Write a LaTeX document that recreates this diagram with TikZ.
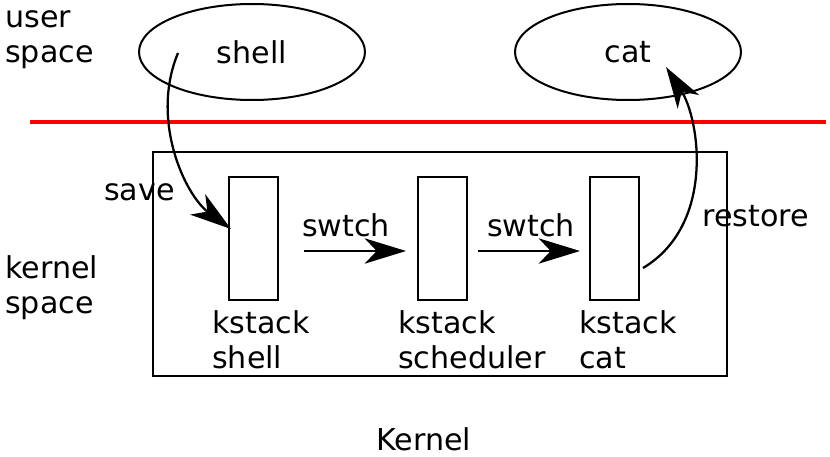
\documentclass[tikz,border=0pt]{standalone}
\usepackage{fontspec}
\setmainfont{DejaVu Sans}
\usetikzlibrary{arrows.meta,shapes.geometric}
\begin{document}
\begin{tikzpicture}[x=0.75pt,y=-0.75pt,
  lbl/.style={font=\fontsize{22.6}{26.25}\selectfont, inner sep=0pt, align=left},
  ell/.style={draw, ellipse, line width=1.5pt, minimum width=169.5pt, minimum height=72pt, inner sep=0pt, font=\fontsize{22.6}{26.25}\selectfont},
  stackbox/.style={draw, line width=1.5pt, minimum width=36.75pt, minimum height=92.25pt, inner sep=0pt},
  kbox/.style={draw, line width=1.5pt, minimum width=430.5pt, minimum height=168pt, inner sep=0pt},
  arr/.style={line width=1.7pt, -{Stealth[length=31pt,width=19pt,inset=9pt]}}]
\useasboundingbox (0,0) rectangle (830,456);

% boundary line
\coordinate (la) at (30,122);
\coordinate (lb) at (826,122);
\draw[red, line width=3pt] (la) -- (lb);

% user space ellipses
\node[ell] (shell) at (252,52) {shell};
\node[ell] (cat) at (628,52) {cat};

% kernel box and stacks
\node[kbox] (kernel) at (440,264) {};
\node[stackbox] (r1) at (253.5,238.5) {};
\node[stackbox] (r2) at (442.5,238.5) {};
\node[stackbox] (r3) at (614,238.5) {};

% labels (base anchor = baseline of the last line)
\node[lbl, anchor=base west] (us) at (5,63) {user\\space};
\node[lbl, anchor=base west] (ks) at (5,313) {kernel\\space};
\node[lbl, anchor=base west] (l1) at (212,368) {kstack\\shell};
\node[lbl, anchor=base west] (l2) at (398,368) {kstack\\scheduler};
\node[lbl, anchor=base west] (l3) at (579,368) {kstack\\cat};
\node[lbl, anchor=base west] (save) at (104,200) {save};
\node[lbl, anchor=base west] (restore) at (702,226) {restore};
\node[lbl, anchor=base] (sw1) at (346,236) {swtch};
\node[lbl, anchor=base] (sw2) at (531,236) {swtch};
\node[lbl, anchor=base] (kl) at (424,450) {Kernel};

% arrows
\coordinate (a1) at (304,251);
\coordinate (a2) at (406,251);
\coordinate (b1) at (478,251);
\coordinate (b2) at (580,251);
\draw[arr] (a1) -- (a2);
\draw[arr] (b1) -- (b2);

\coordinate (sv1) at (178,53);
\coordinate (sv2) at (231,229);
\draw[arr] (sv1) .. controls (150,120) and (185,195) .. (sv2);

\coordinate (rs1) at (643,268);
\coordinate (rs2) at (666,67);
\draw[arr] (rs1) .. controls (715,225) and (700,120) .. (rs2);
\end{tikzpicture}
\end{document}
